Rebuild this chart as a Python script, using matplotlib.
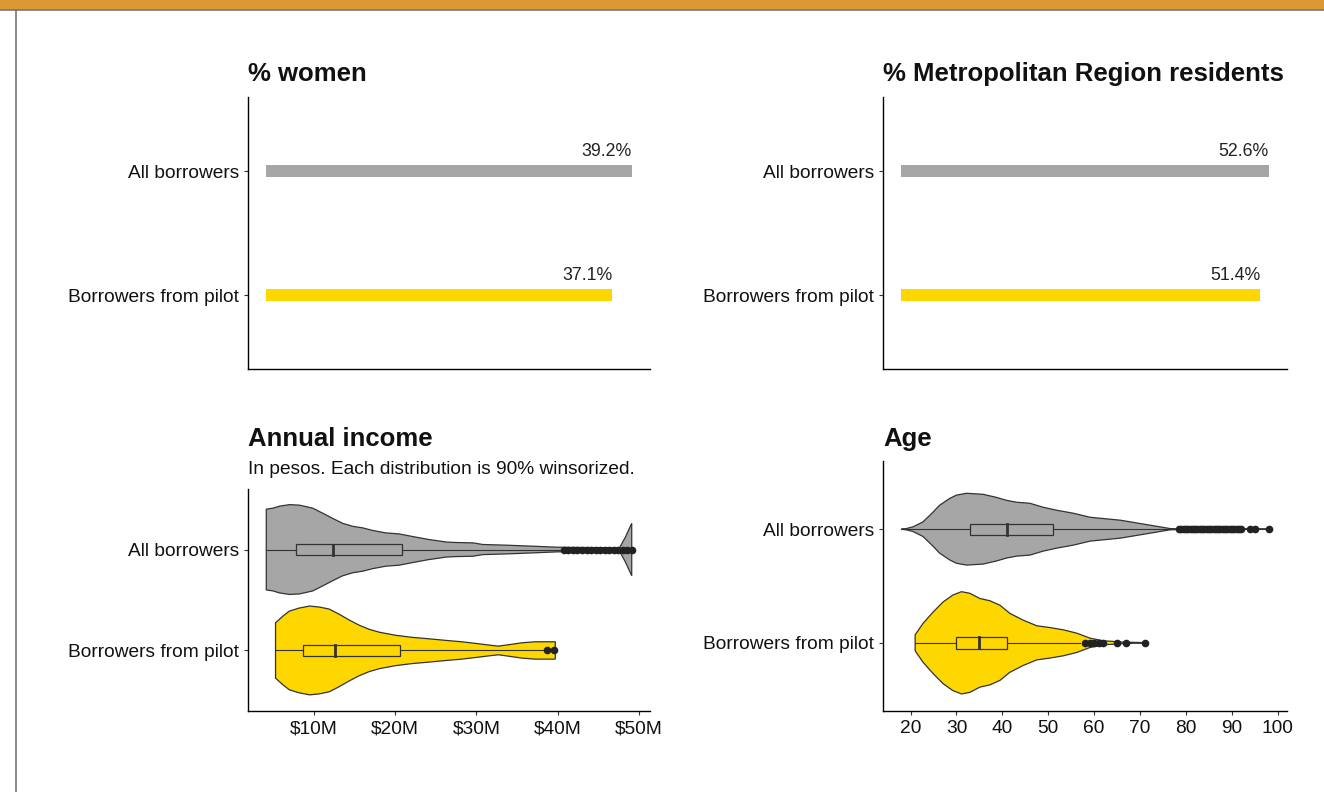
import matplotlib.pyplot as plt
from matplotlib.lines import Line2D
from matplotlib.patches import Rectangle

plt.rcParams['font.family'] = ['Liberation Sans', 'DejaVu Sans']

GREY = '#a6a6a6'
GOLD = '#ffd700'
EDGE = '#333333'

groups = ['All borrowers', 'Borrowers from pilot']
pct_women = [39.2, 37.1]
pct_metro = [52.6, 51.4]

# violin outlines: value, half-width (in category units)
income_all_x = [4.16, 4.98, 5.79, 7.01, 8.24, 9.88, 11.1, 12.3, 13.55, 14.8, 16.0,
                17.2, 18.85, 20.5, 22.1, 24.1, 25.6, 26.2, 27.4, 29.6, 30.8, 33.8,
                37.0, 39.9, 43.5, 47.6, 48.3, 49.1]
income_all_w = [0.40, 0.41, 0.43, 0.445, 0.44, 0.41, 0.36, 0.31, 0.26, 0.23, 0.215,
                0.19, 0.165, 0.155, 0.13, 0.10, 0.083, 0.075, 0.07, 0.066, 0.05, 0.043,
                0.033, 0.023, 0.02, 0.017, 0.12, 0.26]
income_pilot_x = [5.3, 6.2, 7.0, 8.2, 9.5, 10.7, 11.9, 13.1, 14.4, 15.6, 16.8, 18.1,
                  20.1, 22.1, 24.1, 26.2, 28.2, 30.3, 31.9, 32.7, 33.9, 35.6, 37.2, 39.7]
income_pilot_w = [0.274, 0.34, 0.39, 0.42, 0.44, 0.43, 0.41, 0.36, 0.30, 0.25, 0.21,
                  0.18, 0.15, 0.13, 0.116, 0.10, 0.086, 0.066, 0.05, 0.043, 0.056,
                  0.076, 0.086, 0.086]
age_all_x = [18.0, 19.0, 20.5, 22.7, 24.9, 26.3, 28.5, 30.0, 32.2, 35.8, 38.7, 40.9,
             43.1, 46.0, 48.9, 51.8, 55.5, 59.1, 65.7, 72.2, 76.6, 80.0, 98.0]
age_all_w = [0.0, 0.005, 0.02, 0.064, 0.15, 0.21, 0.27, 0.30, 0.316, 0.307, 0.28,
             0.254, 0.237, 0.228, 0.193, 0.167, 0.14, 0.105, 0.079, 0.035, 0.005,
             0.002, 0.0]
age_pilot_x = [21.0, 22.7, 24.9, 27.1, 29.2, 31.1, 32.9, 35.1, 37.3, 39.5, 41.6,
               44.5, 47.5, 50.4, 53.3, 56.2, 59.1, 62.0, 66.4, 71.0]
age_pilot_w = [0.07, 0.17, 0.27, 0.36, 0.42, 0.45, 0.436, 0.39, 0.37, 0.33, 0.26,
               0.20, 0.15, 0.134, 0.114, 0.085, 0.041, 0.018, 0.006, 0.002]

# box stats: low whisker, q1, median, q3, high whisker
income_all_box = [4.2, 7.8, 12.4, 20.9, 40.4]
income_pilot_box = [5.3, 8.7, 12.6, 20.6, 38.3]
age_all_box = [18, 32.9, 41.0, 51.0, 78]
age_pilot_box = [21, 30.0, 34.9, 41.0, 57]

income_all_out = [40.8, 41.3, 41.9, 42.4, 43.0, 43.6, 44.1, 44.7, 45.2, 45.8, 46.3,
                  46.9, 47.4, 48.0, 48.5, 49.1]
income_pilot_out = [38.7, 39.5]
age_all_out = [78.5, 79, 79.5, 80, 80.5, 81, 81.5, 82, 82.5, 83, 83.5, 84, 84.5, 85,
               85.5, 86, 86.5, 87, 87.5, 88, 88.5, 89, 89.5, 90, 90.5, 91, 91.5, 92,
               94, 95, 98]
age_pilot_out = [58, 59, 60, 61, 62, 65, 67, 71]

W, H = 1324, 792
fig = plt.figure(figsize=(W / 100, H / 100), dpi=100)


def add_ax(left, right, top, bottom):
    return fig.add_axes([left / W, 1 - bottom / H, (right - left) / W, (bottom - top) / H])


def style(ax, xticks=True):
    for s in ['top', 'right']:
        ax.spines[s].set_visible(False)
    for s in ['left', 'bottom']:
        ax.spines[s].set_linewidth(1.0)
        ax.spines[s].set_color('black')
    ax.set_yticks([1, 0])
    ax.set_yticklabels(groups)
    ax.set_ylim(-0.6, 1.6)
    ax.tick_params(axis='both', length=3, width=0.8, color='#333333',
                   labelsize=13.8, pad=3.5, labelcolor='#111111')
    if not xticks:
        ax.set_xticks([])


def bars(ax, vals):
    lo, hi = 0, max(vals)
    pad = (hi - lo) * 0.05
    ax.set_xlim(lo - pad, hi + pad)
    ax.barh([1, 0], vals, height=0.1, color=[GREY, GOLD])
    for y, v in zip([1, 0], vals):
        ax.annotate(f'{v}%', (v, y), xytext=(0, 8), textcoords='offset points',
                    ha='right', va='bottom', fontsize=12.8, color='#222222')
    style(ax, xticks=False)


def violin(ax, y, xs, ws, box, outs, color):
    top = [y + w for w in ws]
    bot = [y - w for w in ws]
    ax.fill(xs + xs[::-1], top + bot[::-1], facecolor=color, edgecolor=EDGE,
            linewidth=0.9, zorder=2)
    lo, q1, med, q3, hi = box
    ax.plot([lo, q1], [y, y], color=EDGE, lw=0.8, zorder=3)
    ax.plot([q3, hi], [y, y], color=EDGE, lw=0.8, zorder=3)
    ax.add_patch(Rectangle((q1, y - 0.05), q3 - q1, 0.1, facecolor=color,
                           edgecolor=EDGE, lw=0.9, zorder=3))
    ax.plot([med, med], [y - 0.05, y + 0.05], color=EDGE, lw=2.0, zorder=4)
    ax.plot(outs, [y] * len(outs), 'o', color='#222222', ms=5.5, mew=0, zorder=4)


def violin_lims(ax, lo, hi):
    pad = (hi - lo) * 0.05
    ax.set_xlim(lo - pad, hi + pad)


ax1 = add_ax(248, 650, 96.6, 369.4)
bars(ax1, pct_women)
ax2 = add_ax(883, 1287, 96.6, 369.4)
bars(ax2, pct_metro)

ax3 = add_ax(248, 650, 489, 711)
violin(ax3, 1, income_all_x, income_all_w, income_all_box, income_all_out, GREY)
violin(ax3, 0, income_pilot_x, income_pilot_w, income_pilot_box, income_pilot_out, GOLD)
violin_lims(ax3, min(income_all_x), max(income_all_x))
style(ax3)
ax3.set_xticks([10, 20, 30, 40, 50])
ax3.set_xticklabels(['$10M', '$20M', '$30M', '$40M', '$50M'])

ax4 = add_ax(883, 1287, 461, 711)
violin(ax4, 1, age_all_x, age_all_w, age_all_box, age_all_out, GREY)
violin(ax4, 0, age_pilot_x, age_pilot_w, age_pilot_box, age_pilot_out, GOLD)
violin_lims(ax4, min(age_all_x), max(age_all_x))
style(ax4)
ax4.set_xticks(range(20, 101, 10))


def ftext(x, y, s, **kw):
    fig.text(x / W, 1 - y / H, s, va='baseline', ha='left', **kw)


ftext(248, 81, '% women', fontsize=18.5, fontweight='bold', color='#111111')
ftext(883, 81, '% Metropolitan Region residents', fontsize=18.5, fontweight='bold', color='#111111')
ftext(248, 446, 'Annual income', fontsize=18.5, fontweight='bold', color='#111111')
ftext(248, 474, 'In pesos. Each distribution is 90% winsorized.', fontsize=13.8, color='#111111')
ftext(883, 446, 'Age', fontsize=18.5, fontweight='bold', color='#111111')

# page decoration: orange header band and left rule
fig.patches.append(Rectangle((0, 1 - 9.5 / H), 1, 9.5 / H, transform=fig.transFigure,
                             facecolor='#dc9833', edgecolor='none'))
fig.lines.append(Line2D([0, 1], [1 - 10 / H] * 2, transform=fig.transFigure,
                        color='#777777', lw=1.2))
fig.lines.append(Line2D([15.5 / W] * 2, [0, 1 - 10 / H], transform=fig.transFigure,
                        color='#777777', lw=1.2))

plt.savefig('out.png', dpi=100)
